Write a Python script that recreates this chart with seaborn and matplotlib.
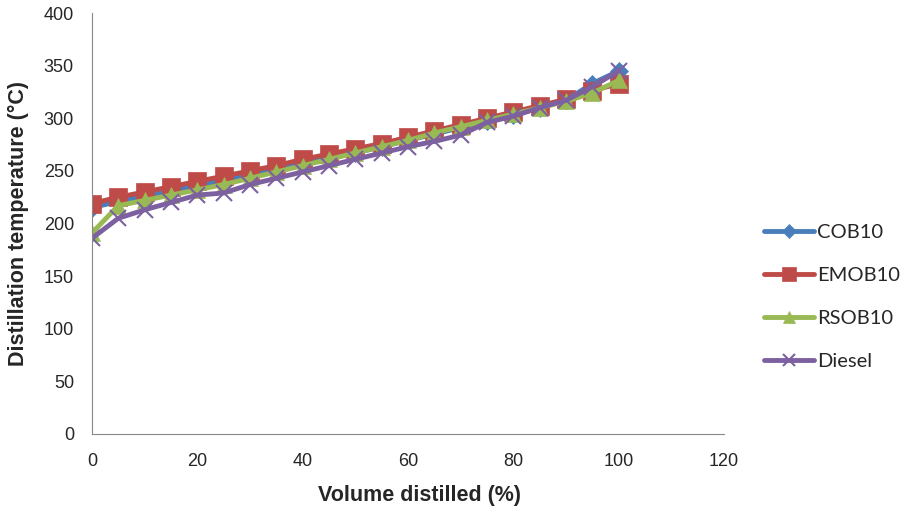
import numpy as np
import pandas as pd
import seaborn as sns
import matplotlib
matplotlib.use("Agg")
import matplotlib.pyplot as plt

volume = [0, 5, 10, 15, 20, 25, 30, 35, 40, 45, 50, 55, 60, 65, 70, 75, 80, 85, 90, 95, 100]
cob10 = [215, 221, 226, 231, 236, 241, 246, 251, 257, 262, 267, 273, 279, 285, 291, 297, 303, 310, 317, 333, 345]
emob10 = [219, 225, 230, 235, 240, 245, 250, 255, 261, 266, 271, 276, 282, 288, 294, 300, 306, 312, 318, 326, 333]
rsob10 = [191, 217, 222, 227, 232, 237, 243, 249, 255, 261, 267, 273, 279, 286, 292, 298, 304, 310, 316, 324, 336]
diesel = [186, 205, 213, 220, 227, 229, 237, 243, 249, 255, 261, 267, 273, 278, 284, 296, 302, 310, 317, 330, 345]

series = ["COB10", "EMOB10", "RSOB10", "Diesel"]
colors = ["#4A7EBB", "#BE4B48", "#98B954", "#7D60A0"]
markers = ["D", "s", "^", "x"]
msizes = [9, 13, 12, 12]

df = pd.DataFrame({"volume": volume, "COB10": cob10, "EMOB10": emob10,
                   "RSOB10": rsob10, "Diesel": diesel})

sns.set_style("white")
plt.rcParams["font.family"] = ["Liberation Sans", "DejaVu Sans"]

fig = plt.figure(figsize=(9.14, 5.09), dpi=100)
ax = fig.add_axes([92/914, 1 - 434/509, (724-92)/914, (434-13)/509])

for name, c, m, ms in zip(series, colors, markers, msizes):
    sns.lineplot(data=df, x="volume", y=name, ax=ax, color=c, marker=m,
                 markersize=ms, linewidth=3.5, markeredgecolor=c,
                 markeredgewidth=1.5 if m == "x" else 0.5, label=name)

ax.set_xlim(0, 120)
ax.set_ylim(0, 400)
ax.set_xticks(range(0, 121, 20))
ax.set_yticks(range(0, 401, 50))
ax.tick_params(labelsize=13, length=5, color="#888888", direction="out")
ax.tick_params(axis="y", pad=8)
ax.tick_params(axis="x", pad=9)
for s in ["top", "right"]:
    ax.spines[s].set_visible(False)
for s in ["left", "bottom"]:
    ax.spines[s].set_color("#888888")
ax.set_xlabel("")
ax.set_ylabel("")
fig.text(419/914, 1 - 495/509, "Volume distilled (%)", fontsize=15.5,
         fontweight="bold", ha="center", va="center")
fig.text(18/914, 1 - 223/509, "Distillation temperature (°C)", fontsize=15.5,
         fontweight="bold", ha="center", va="center", rotation=90)

handles, labels = ax.get_legend_handles_labels()
ax.legend_.remove()
fig.legend(handles, labels, loc="center left", bbox_to_anchor=(746/914, 1 - 297/509),
           frameon=False, prop={"family": "Lato", "size": 14.5}, handlelength=2.5,
           handletextpad=0.15, labelspacing=1.3, markerscale=0.75)

fig.savefig("out.png", dpi=100)
